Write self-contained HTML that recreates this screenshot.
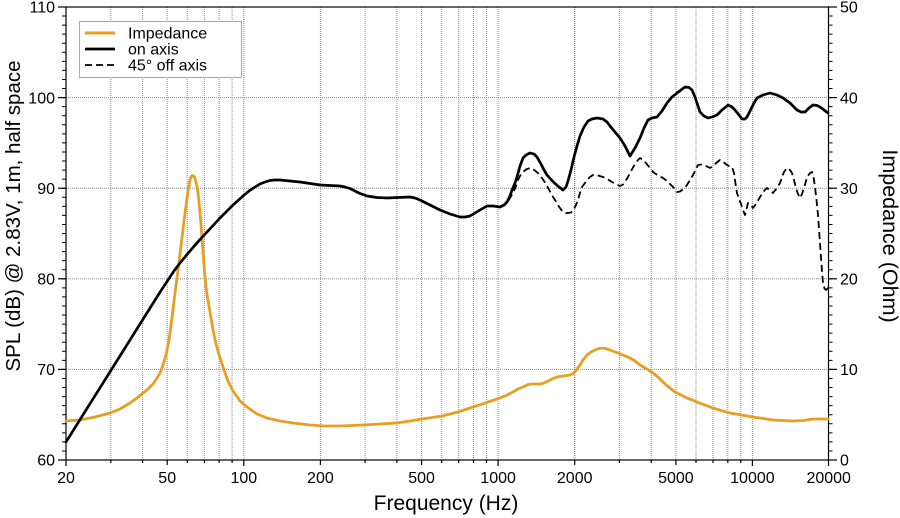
<!DOCTYPE html>
<html><head><meta charset="utf-8"><style>
html,body{margin:0;padding:0;background:#fff;}
svg{display:block;font-family:"Liberation Sans",Arial,sans-serif;}
</style></head><body>
<svg width="900" height="518" viewBox="0 0 900 518" xmlns="http://www.w3.org/2000/svg">
<rect width="900" height="518" fill="#fff"/>
<g stroke="#8a8a8a" stroke-width="1" stroke-dasharray="1 1" fill="none">
<line x1="66" y1="97.6" x2="828.5" y2="97.6"/>
<line x1="66" y1="188.2" x2="828.5" y2="188.2"/>
<line x1="66" y1="278.8" x2="828.5" y2="278.8"/>
<line x1="66" y1="369.4" x2="828.5" y2="369.4"/>
<line x1="110.8" y1="7" x2="110.8" y2="460"/>
<line x1="142.6" y1="7" x2="142.6" y2="460"/>
<line x1="167.2" y1="7" x2="167.2" y2="460"/>
<line x1="187.3" y1="7" x2="187.3" y2="460"/>
<line x1="204.4" y1="7" x2="204.4" y2="460"/>
<line x1="219.1" y1="7" x2="219.1" y2="460"/>
<line x1="232.1" y1="7" x2="232.1" y2="460"/>
<line x1="243.8" y1="7" x2="243.8" y2="460"/>
<line x1="320.4" y1="7" x2="320.4" y2="460"/>
<line x1="365.1" y1="7" x2="365.1" y2="460"/>
<line x1="396.9" y1="7" x2="396.9" y2="460"/>
<line x1="421.6" y1="7" x2="421.6" y2="460"/>
<line x1="441.7" y1="7" x2="441.7" y2="460"/>
<line x1="458.7" y1="7" x2="458.7" y2="460"/>
<line x1="473.5" y1="7" x2="473.5" y2="460"/>
<line x1="486.5" y1="7" x2="486.5" y2="460"/>
<line x1="498.1" y1="7" x2="498.1" y2="460"/>
<line x1="619.4" y1="7" x2="619.4" y2="460"/>
<line x1="651.2" y1="7" x2="651.2" y2="460"/>
<line x1="675.9" y1="7" x2="675.9" y2="460"/>
<line x1="696.0" y1="7" x2="696.0" y2="460"/>
<line x1="713.0" y1="7" x2="713.0" y2="460"/>
<line x1="727.8" y1="7" x2="727.8" y2="460"/>
<line x1="740.8" y1="7" x2="740.8" y2="460"/>
<line x1="752.4" y1="7" x2="752.4" y2="460"/>
</g>
<line x1="574.7" y1="7" x2="574.7" y2="460" stroke="#555" stroke-width="1" stroke-dasharray="1 1"/>

<rect x="79.5" y="21.5" width="162" height="56" fill="#fff" stroke="#aaa" stroke-width="1"/>
<line x1="85" y1="33" x2="115" y2="33" stroke="#E89E22" stroke-width="3"/>
<line x1="85" y1="49" x2="115" y2="49" stroke="#000" stroke-width="2.8"/>
<line x1="85" y1="65" x2="115" y2="65" stroke="#000" stroke-width="1.8" stroke-dasharray="7 4"/>
<g font-size="16" fill="#000">
<text x="128" y="38.5">Impedance</text>
<text x="128" y="54.5">on axis</text>
<text x="128" y="70.5">45° off axis</text>
</g>

<rect x="66" y="7" width="762.5" height="453" fill="none" stroke="#000" stroke-width="1.2"/>

<line x1="64" y1="460.5" x2="64" y2="6" stroke="#000" stroke-width="4" stroke-dasharray="1 8.06"/>
<line x1="830.5" y1="460.5" x2="830.5" y2="6" stroke="#000" stroke-width="4" stroke-dasharray="1 8.06"/>
<g stroke="#000" stroke-width="1.2">
<line x1="58" y1="7" x2="66" y2="7"/>
<line x1="58" y1="97.6" x2="66" y2="97.6"/>
<line x1="58" y1="188.2" x2="66" y2="188.2"/>
<line x1="58" y1="278.8" x2="66" y2="278.8"/>
<line x1="58" y1="369.4" x2="66" y2="369.4"/>
<line x1="58" y1="460" x2="66" y2="460"/>
<line x1="828.5" y1="7" x2="837" y2="7"/>
<line x1="828.5" y1="97.6" x2="837" y2="97.6"/>
<line x1="828.5" y1="188.2" x2="837" y2="188.2"/>
<line x1="828.5" y1="278.8" x2="837" y2="278.8"/>
<line x1="828.5" y1="369.4" x2="837" y2="369.4"/>
<line x1="828.5" y1="460" x2="837" y2="460"/>
<line x1="66" y1="460" x2="66" y2="466"/>
<line x1="110.8" y1="460" x2="110.8" y2="463"/>
<line x1="142.6" y1="460" x2="142.6" y2="463"/>
<line x1="167.2" y1="460" x2="167.2" y2="465"/>
<line x1="187.3" y1="460" x2="187.3" y2="463"/>
<line x1="204.4" y1="460" x2="204.4" y2="463"/>
<line x1="219.1" y1="460" x2="219.1" y2="463"/>
<line x1="232.1" y1="460" x2="232.1" y2="463"/>
<line x1="243.8" y1="460" x2="243.8" y2="466"/>
<line x1="320.4" y1="460" x2="320.4" y2="465"/>
<line x1="365.1" y1="460" x2="365.1" y2="463"/>
<line x1="396.9" y1="460" x2="396.9" y2="463"/>
<line x1="421.6" y1="460" x2="421.6" y2="465"/>
<line x1="441.7" y1="460" x2="441.7" y2="463"/>
<line x1="458.7" y1="460" x2="458.7" y2="463"/>
<line x1="473.5" y1="460" x2="473.5" y2="463"/>
<line x1="486.5" y1="460" x2="486.5" y2="463"/>
<line x1="498.1" y1="460" x2="498.1" y2="466"/>
<line x1="574.7" y1="460" x2="574.7" y2="465"/>
<line x1="619.4" y1="460" x2="619.4" y2="463"/>
<line x1="651.2" y1="460" x2="651.2" y2="463"/>
<line x1="675.9" y1="460" x2="675.9" y2="465"/>
<line x1="696.0" y1="460" x2="696.0" y2="463"/>
<line x1="713.0" y1="460" x2="713.0" y2="463"/>
<line x1="727.8" y1="460" x2="727.8" y2="463"/>
<line x1="740.8" y1="460" x2="740.8" y2="463"/>
<line x1="752.4" y1="460" x2="752.4" y2="466"/>
<line x1="828.5" y1="460" x2="828.5" y2="466"/>
</g>

<g font-size="16" fill="#000" text-anchor="end">
<text x="55" y="12.7">110</text>
<text x="55" y="103.3">100</text>
<text x="55" y="193.9">90</text>
<text x="55" y="284.5">80</text>
<text x="55" y="375.1">70</text>
<text x="55" y="465.7">60</text>
</g>
<g font-size="16" fill="#000" text-anchor="start">
<text x="840" y="12.7">50</text>
<text x="840" y="103.3">40</text>
<text x="840" y="193.9">30</text>
<text x="840" y="284.5">20</text>
<text x="840" y="375.1">10</text>
<text x="840" y="465.7">0</text>
</g>
<g font-size="16" fill="#000" text-anchor="middle">
<text x="66" y="483">20</text>
<text x="167.2" y="483">50</text>
<text x="243.8" y="483">100</text>
<text x="320.4" y="483">200</text>
<text x="421.6" y="483">500</text>
<text x="498.1" y="483">1000</text>
<text x="574.7" y="483">2000</text>
<text x="675.9" y="483">5000</text>
<text x="752.4" y="483">10000</text>
<text x="828.7" y="483">20000</text>
</g>

<text x="446" y="510" font-size="21" text-anchor="middle" fill="#000">Frequency (Hz)</text>
<text transform="translate(20,216) rotate(-90)" font-size="20.5" text-anchor="middle" fill="#000">SPL (dB) @ 2.83V, 1m, half space</text>
<text transform="translate(883,236) rotate(90)" font-size="21.5" text-anchor="middle" fill="#000">Impedance (Ohm)</text>

<polyline fill="none" stroke="#E89E22" stroke-width="2.8" stroke-linejoin="round" stroke-linecap="round" points="66,421 80,420 95,417 110,413 120,409 130,403 137,398 143,393 148,389 153,384 157,378 160,373 163,365 166,355 169,340 172,318 175,293 178,270 181,246 184,221 186,206 188,191 190,180 191.5,176 193,175.5 194.5,177 196,182 197.5,189 199,202 201,224 203,252 205,277 207,295 210,312 213,330 216,344 220,358 224,370 228,381 233,391 240,401 247,407 257,414 267,418 280,421 293,423 310,425 325,426 340,426 363,425 380,424 397,423 410,421 422,419 442,416 458,412 473,407 485,403 497,399 505,396 513,392 518,389 523,387 527,385 530,384 535,384 540,384 544,383 548,381 552,379 557,377 563,376 570,375 574,373 577,369 580,365 583,360 587,355 591,352 595,350 599,348.5 603,348 607,349 610,350 614,351.5 618,353 624,355.5 630,358 635,361 640,365 647,369 653,373 659,378 665,384 670,388 675,392 686,397.5 697,402 705,405 713,408 721,410.5 730,413 741,415 753,417 763,418.5 773,420 783,420.5 793,421 803,420.5 813,419 820,419 828,419"/>

<polyline fill="none" stroke="#000" stroke-width="2.7" stroke-linejoin="round" stroke-linecap="round" points="66,442 90,403.7 115,363.9 140,324 160,292.2 167,281.5 174,271 180,263 187,254.5 193,247.5 200,239.5 207,232 214,224.5 220,218 226,212 232,206 238,200.5 243,196 249,191 255,187 260,184 265,182 270,180.5 275,180 280,180 290,181 300,182 310,183.5 320,185 330,185.5 340,186 345,187 350,188.5 355,191 360,193.5 367,196 377,197.5 387,198 398,197.5 410,197 415,198 420,200 425,202.5 430,205 435,207.5 440,210 450,214 460,217 465,217 470,216 475,213 480,210 487,206 493,206 500,207 504,205 507,202 510,196 512,190 515,183 517,177 520,166 523,158 526,155 530,153 534,154 537,157 541,164 544,170 547,175 551,179.5 555,183.5 559,187 563,190 566,187 568,181 571,170 574,157 577,146 580,136 584,127 588,121 592,119 597,118 603,119 607,122 610,126 615,132 620,138 625,146 630,156 635,148 640,138 644,128 648,120 652,118 657,117 662,111 667,103 672,97 677,93 681,90 685,87 689,87.5 692,90 695,97 698,106 700,112 704,116 708,118 712,117 717,115 722,110 728,105 732,107 735,110 739,115 742,119 745,119 747,117 751,109 754,103 757,98 763,95 770,93 777,95 783,98 790,103 797,110 801,112 805,112 809,108 813,105 817,105.5 820,107 824,110 828,113"/>

<polyline fill="none" stroke="#000" stroke-width="1.8" stroke-dasharray="7 4" stroke-linejoin="round" points="500,207 504,205.5 507,203 510,198 513,193 516,186 518,180 520,176 523,172 526,169.5 530,168 535,170.5 540,175 544,181 547,186 550,191.5 553,197 556,201.5 558,205 561,209.5 563,212 566,213 568,213 571,212.5 573,211 576,205 578,200 580,193 582,187 585,183 587,180 590,177 593,175 598,175.5 603,177 608,179.5 612,182 616,184 620,186 623,184.5 625,182 628,177 630,173 633,167.5 635,164 638,160 640,158 643,160 646,163 650,168 653,172 658,175.5 663,178 667,181 670,184 674,188 677,192 680,191.5 682,190 685,187.5 687,185 690,180 693,175 696,169 698,165 701,164.5 704,165 707,166.5 710,168 713,166 715,164 718,161.5 720,160 724,162.5 727,165 730,166.5 732,167 734,173 735,180 736,187 737,193 739,199 741,204 743,210 745,215 746.5,209 748,203 750,204 753,208 756,204 760,197 764,191 767,188 770,190.5 773,193 777,188 780,183 782,177 784,172 787,168 790,170 792,173 794,180 796,188 798,194 800,198 802,194 804,188 806,181 807,177 810,173 812,172 813.5,177 815,187 816.5,200 818,215 819,229 820,243 821.5,265 823,283 824.5,288.5 826,290 829,287"/>
</svg>
</body></html>
